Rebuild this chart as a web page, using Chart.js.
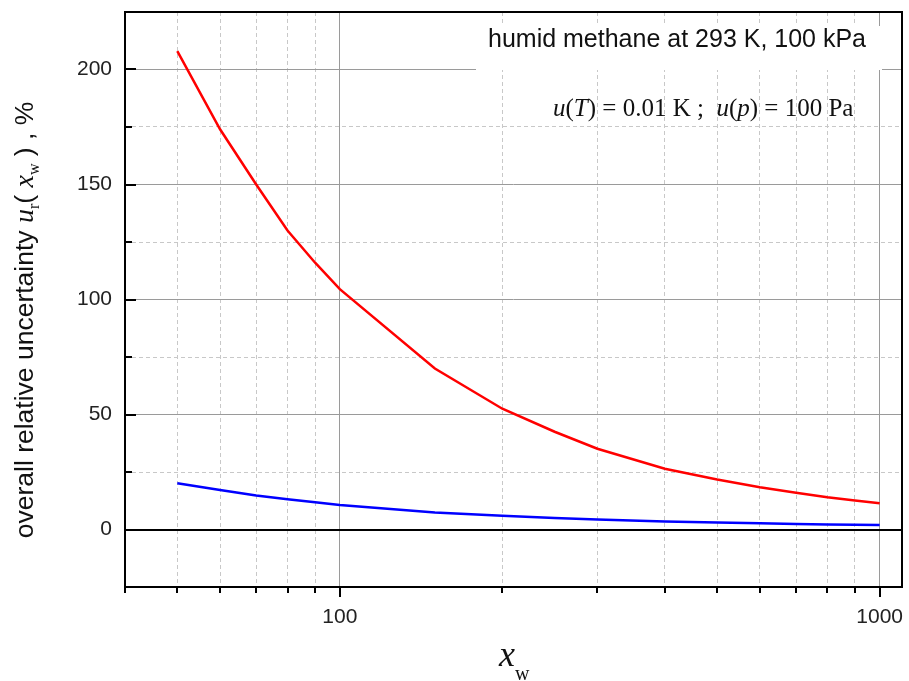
<!DOCTYPE html>
<html>
<head>
<meta charset="utf-8">
<script src="https://cdn.jsdelivr.net/npm/chart.js@4"></script>
<style>
html, body { margin: 0; padding: 0; background: #fff; }
#wrap { width: 909px; height: 681px; }
</style>
</head>
<body>
<div id="wrap"><canvas id="mycanvas" width="909" height="681"></canvas></div>
<script>
// values
var xValues = [50, 60, 70, 80, 90, 100, 150, 200, 250, 300, 400, 500, 600, 700, 800, 900, 1000];
var redValues = [208, 174, 150, 130, 116, 104.5, 70, 52.5, 42.5, 35.1, 26.4, 21.7, 18.4, 16, 14, 12.6, 11.4];
var blueValues = [20.1, 17.2, 14.8, 13.2, 11.8, 10.7, 7.4, 6.0, 5.0, 4.3, 3.5, 3.0, 2.7, 2.4, 2.2, 2.1, 2.0];
var xTicks = [40, 50, 60, 70, 80, 90, 100, 200, 300, 400, 500, 600, 700, 800, 900, 1000];
var xLabels = [100, 1000];
var yTicks = [-25, 0, 25, 50, 75, 100, 125, 150, 175, 200, 225];
var yLabels = [0, 50, 100, 150, 200];

var SANS = "'Liberation Sans', Arial, sans-serif";
var SERIF = "'Liberation Serif', 'Times New Roman', serif";

function points(ys) {
    return xValues.map(function(x, i) { return { x: x, y: ys[i] }; });
}

// draw a row of text pieces with different fonts
function drawPieces(c, pieces, x, y) {
    pieces.forEach(function(p) {
        c.font = p.font;
        c.fillText(p.text, x, y + (p.dy || 0));
        x += c.measureText(p.text).width;
    });
}
function piecesWidth(c, pieces) {
    var w = 0;
    pieces.forEach(function(p) { c.font = p.font; w += c.measureText(p.text).width; });
    return w;
}
// keep the plot box where the reference has it
function noPad(s) {
    s.paddingTop = 0; s.paddingBottom = 0; s.paddingLeft = 0; s.paddingRight = 0;
}

var decor = {
    id: 'decor',
    beforeDatasetsDraw: function(chart) {
        var c = chart.ctx;
        c.save();
        c.fillStyle = '#fff';
        c.fillRect(476, 26, 406, 44);
        c.restore();
    },
    afterDraw: function(chart) {
        var c = chart.ctx, a = chart.chartArea;
        var xs = chart.scales.x, ys = chart.scales.y;
        c.save();
        // frame
        c.strokeStyle = '#000';
        c.lineWidth = 2;
        c.strokeRect(a.left, a.top, a.right - a.left, a.bottom - a.top);
        // tick marks: x outside, y inside
        c.beginPath();
        xTicks.forEach(function(v) {
            var px = Math.round(xs.getPixelForValue(v));
            var len = xLabels.indexOf(v) >= 0 ? 10 : 6;
            c.moveTo(px, a.bottom);
            c.lineTo(px, a.bottom + len);
        });
        yTicks.forEach(function(v) {
            var py = Math.round(ys.getPixelForValue(v));
            var len = v % 50 === 0 ? 11 : 7;
            c.moveTo(a.left, py);
            c.lineTo(a.left + len, py);
        });
        c.stroke();

        c.fillStyle = '#111';
        c.textBaseline = 'alphabetic';
        c.textAlign = 'left';
        // annotation texts
        c.font = '25px ' + SANS;
        c.fillText('humid methane at 293 K, 100 kPa', 488, 47);
        drawPieces(c, [
            { text: 'u', font: 'italic 25px ' + SERIF },
            { text: '(', font: '25px ' + SERIF },
            { text: 'T', font: 'italic 25px ' + SERIF },
            { text: ') = 0.01 K ;  ', font: '25px ' + SERIF },
            { text: 'u', font: 'italic 25px ' + SERIF },
            { text: '(', font: '25px ' + SERIF },
            { text: 'p', font: 'italic 25px ' + SERIF },
            { text: ') = 100 Pa', font: '25px ' + SERIF }
        ], 553, 116);

        // x axis title
        drawPieces(c, [
            { text: 'x', font: 'italic 36px ' + SERIF },
            { text: 'w', font: '20px ' + SERIF, dy: 14 }
        ], 499, 666);

        // y axis title (rotated)
        var yt = [
            { text: 'overall relative uncertainty ', font: '26.5px ' + SANS },
            { text: 'u', font: 'italic 28px ' + SERIF },
            { text: 'r', font: '16px ' + SERIF, dy: 6 },
            { text: '( ', font: '26.5px ' + SANS },
            { text: 'x', font: 'italic 28px ' + SERIF },
            { text: 'w', font: '16px ' + SERIF, dy: 6 },
            { text: ' ) , %', font: '26.5px ' + SANS }
        ];
        c.translate(33, 320);
        c.rotate(-Math.PI / 2);
        drawPieces(c, yt, -piecesWidth(c, yt) / 2, 0);
        c.restore();
    }
};

var ctx1 = document.getElementById('mycanvas');

var data1 = {
    datasets: [
        {
            label: 'red',
            data: points(redValues),
            borderColor: '#ff0000',
            borderWidth: 2.5,
            pointRadius: 0,
            tension: 0,
            fill: false
        },
        {
            label: 'blue',
            data: points(blueValues),
            borderColor: '#0000ff',
            borderWidth: 2.5,
            pointRadius: 0,
            tension: 0,
            fill: false
        }
    ]
};

var options = {
    responsive: false,
    animation: false,
    layout: { padding: { top: 12, right: 7, left: 0, bottom: 0 } },
    plugins: {
        legend: { display: false },
        tooltip: { enabled: false }
    },
    scales: {
        x: {
            type: 'logarithmic',
            min: 40,
            max: 1100,
            afterBuildTicks: function(s) {
                s.ticks = xTicks.map(function(v) { return { value: v }; });
            },
            afterFit: function(s) { s.height = 94; noPad(s); },
            ticks: {
                autoSkip: false,
                maxRotation: 0,
                padding: 18,
                color: '#222',
                font: { family: SANS, size: 21 },
                callback: function(v) { return xLabels.indexOf(v) >= 0 ? String(v) : ''; }
            },
            grid: {
                drawTicks: false,
                lineWidth: 1,
                color: function(ctx) { return xLabels.indexOf(ctx.tick.value) >= 0 ? '#9a9a9a' : '#c8c8c8'; }
            },
            border: {
                display: false,
                dash: function(ctx) { return xLabels.indexOf(ctx.tick.value) >= 0 ? [] : [4, 3]; }
            }
        },
        y: {
            type: 'linear',
            min: -25,
            max: 225,
            afterBuildTicks: function(s) {
                s.ticks = yTicks.map(function(v) { return { value: v }; });
            },
            afterFit: function(s) { s.width = 125; noPad(s); },
            ticks: {
                padding: 13,
                color: '#222',
                font: { family: SANS, size: 21 },
                callback: function(v) { return yLabels.indexOf(v) >= 0 ? String(v) : ''; }
            },
            grid: {
                drawTicks: false,
                color: function(ctx) {
                    var v = ctx.tick.value;
                    if (v === 0) return '#000';
                    return v % 50 === 0 ? '#9a9a9a' : '#c8c8c8';
                },
                lineWidth: function(ctx) { return ctx.tick.value === 0 ? 2 : 1; }
            },
            border: {
                display: false,
                dash: function(ctx) { return ctx.tick.value % 50 === 0 ? [] : [4, 3]; }
            }
        }
    }
};

var chart1 = new Chart(ctx1, {
    type: 'line',
    data: data1,
    options: options,
    plugins: [decor]
});
</script>
</body>
</html>
